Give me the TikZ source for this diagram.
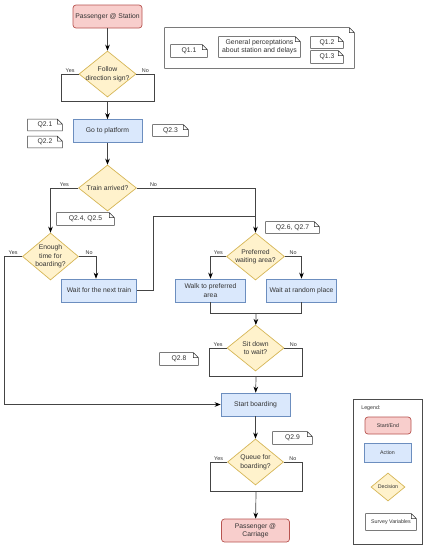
\documentclass[tikz,border=0pt]{standalone}
\usepackage{fontspec}
\setmainfont{Liberation Sans}
\usetikzlibrary{positioning, shapes.geometric, arrows.meta}

\definecolor{txt}{HTML}{333333}
\definecolor{linegray}{HTML}{444444}
\definecolor{endfill}{HTML}{F8CECC}
\definecolor{enddraw}{HTML}{B85450}
\definecolor{actfill}{HTML}{DAE8FC}
\definecolor{actdraw}{HTML}{6C8EBF}
\definecolor{decfill}{HTML}{FFF2CC}
\definecolor{decdraw}{HTML}{D6B656}

\begin{document}
\begin{tikzpicture}[x=1pt, y=-1pt, node distance=57pt, line width=0.7pt,
  font=\fontsize{6.8}{8.5}\selectfont, text=txt,
  terminal/.style={draw=enddraw, fill=endfill, rounded corners=3pt, minimum width=69pt, minimum height=23pt, align=center, inner sep=1pt},
  action/.style={draw=actdraw, fill=actfill, minimum width=70pt, minimum height=23pt, align=center, inner sep=1pt},
  decision/.style={diamond, draw=decdraw, fill=decfill, minimum width=57pt, minimum height=46pt, inner sep=0pt},
  note/.style={inner sep=0pt, minimum height=11pt},
  notedraw/.style={draw=black!80, line width=0.6pt},
  lbl/.style={font=\fontsize{5.4}{6}\selectfont, inner sep=1.5pt, above},
  keyfont/.style={font=\fontsize{5.3}{6}\selectfont},
  link/.style={draw=linegray},
  arrow/.style={link, -{Stealth[length=6pt, width=4.6pt, color=black]}},
]
\fill[white] (0,0) rectangle (429,550);

% main flow
\node (start) [terminal] at (107.5,16.5) {Passenger @ Station};
\node (follow) [decision, below of=start, yshift=-0.5pt, label={[align=center]center:Follow\\direction sign?}] {};
\node (platform) [action, below of=follow, minimum width=69pt] {Go to platform};
\node (train) [decision, below of=platform, minimum width=58pt, label={center:Train arrived?}] {};
\node (enough) [decision, below of=train, xshift=-57pt, yshift=-11.5pt, minimum width=56pt, minimum height=47pt, label={[align=center]center:Enough\\time for\\boarding?}] {};
\node (wait) [action, below of=enough, xshift=48.5pt, yshift=23pt, minimum width=75pt] {Wait for the next train};
\node (pref) [decision, right of=enough, xshift=148pt, minimum width=58pt, minimum height=47pt, label={[align=center]center:Preferred\\waiting area?}] {};
\node (walk) [action, below of=pref, xshift=-45pt, yshift=23pt] {Walk to preferred\\area};
\node (random) [action, below of=pref, xshift=46pt, yshift=23pt] {Wait at random place};
\node (sit) [decision, below of=pref, yshift=-34.5pt, label={[align=center]center:Sit down\\to wait?}] {};
\node (board) [action, below of=sit, yshift=0.5pt, minimum width=69pt] {Start boarding};
\node (queue) [decision, below of=board, yshift=-0.5pt, minimum width=56pt, label={[align=center]center:Queue for\\boarding?}] {};
\node (finish) [terminal, below of=queue, yshift=-11.5pt, minimum width=68pt] {Passenger @\\Carriage};

% survey variables
\node (group) [note, minimum width=189pt, minimum height=40pt] at (259.5,48) {};
\node (q11) [note, minimum width=36pt, minimum height=12pt] at (189,51) {Q1.1};
\node (gen) [note, minimum width=81pt, minimum height=20pt, align=center, font=\fontsize{6.9}{8}\selectfont] at (259.5,47) {General perceptations\\about station and delays};
\node (q12) [note, minimum width=32pt] at (327,42.5) {Q1.2};
\node (q13) [note, minimum width=32pt, minimum height=12pt] at (327,57) {Q1.3};
\node (q21) [note, minimum width=34pt] at (45,125) {Q2.1};
\node (q22) [note, minimum width=34pt] at (45,142) {Q2.2};
\node (q23) [note, minimum width=35pt] at (170.5,130.5) {Q2.3};
\node (q245) [note, minimum width=57pt, minimum height=12pt] at (85.5,219) {Q2.4, Q2.5};
\node (q267) [note, minimum width=53pt] at (292.5,227.5) {Q2.6, Q2.7};
\node (q28) [note, minimum width=38pt, minimum height=12pt] at (179,359) {Q2.8};
\node (q29) [note, minimum width=39pt, minimum height=12pt] at (292.5,438) {Q2.9};

% legend
\node (legend) [draw=black!70, line width=0.6pt, minimum width=69pt, minimum height=145pt] at (387.5,471.5) {};
\node (keytitle) [keyfont, anchor=west, inner sep=0pt] at (361,408) {Legend:};
\node (keyend) [terminal, keyfont, minimum width=46pt, minimum height=17pt] at (388,425.5) {Start/End};
\node (keyact) [action, keyfont, minimum width=47pt, minimum height=19pt] at (387.5,452.5) {Action};
\node (keydec) [decision, minimum width=34pt, minimum height=28pt, label={[keyfont]center:Decision}] at (388,487) {};
\node (keynote) [note, keyfont, minimum width=50pt, minimum height=16pt] at (391,522) {Survey Variables};

\foreach \n in {group, q11, gen, q12, q13, q21, q22, q23, q245, q267, q28, q29, keynote}
  \draw[notedraw] (\n.south west) -- (\n.north west) -- ([xshift=-5pt]\n.north east) -- ([yshift=-5pt]\n.north east) -- (\n.south east) -- cycle
    ([xshift=-5pt]\n.north east) -- ([xshift=-5pt, yshift=-5pt]\n.north east) -- ([yshift=-5pt]\n.north east);

% merge points
\coordinate (m1) at (107.5,101);
\coordinate (join) at (256,216);
\coordinate (m2) at (256,313);
\coordinate (m3) at (256,376);
\coordinate (m4) at (256,491);

% connectors
\draw[arrow] (start) -- (follow);
\draw[link] (follow.west) -- node[lbl] {Yes} ++(-17,0) |- (m1);
\draw[link] (follow.east) -- node[lbl] {No} ++(18,0) |- (m1);
\draw[arrow] (m1) -- (platform);
\draw[arrow] (platform) -- (train);
\draw[arrow] (train.west) -| node[lbl, pos=0.25] {Yes} (enough.north);
\draw[arrow] (train.east) -| node[lbl, pos=0.07] {No} (pref.north);
\draw[arrow] (enough.west) -- node[lbl] {Yes} ++(-18,0) |- (board.west);
\draw[arrow] (enough.east) -| node[lbl, pos=0.3] {No} ([xshift=-3pt]wait.north);
\draw[link] (wait.east) -- ++(16,0) |- (join);
\draw[arrow] (pref.west) -| node[lbl, pos=0.25] {Yes} (walk.north);
\draw[arrow] (pref.east) -| node[lbl, pos=0.25] {No} (random.north);
\draw[link] (walk.south) |- (m2);
\draw[link] (random.south) |- (m2);
\draw[arrow] (m2) -- (sit);
\draw[link] (sit.west) -- node[lbl] {Yes} ++(-17,0) |- (m3);
\draw[link] (sit.east) -- node[lbl] {No} ++(18,0) |- (m3);
\draw[arrow] (m3) -- (board);
\draw[arrow] (board) -- (queue);
\draw[link] (queue.west) -- node[lbl] {Yes} ++(-17,0) |- (m4);
\draw[link] (queue.east) -- node[lbl] {No} ++(18,0) |- (m4);
\draw[arrow] (m4) -- (finish);
\end{tikzpicture}
\end{document}
